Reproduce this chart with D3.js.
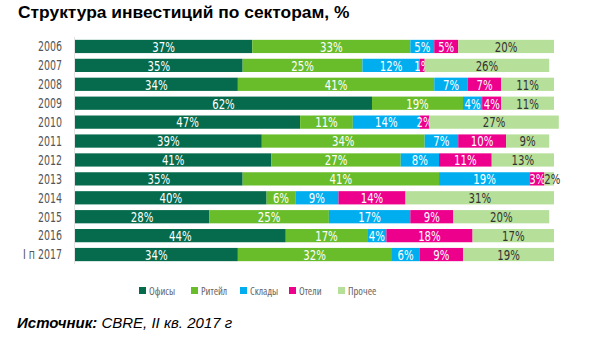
<!DOCTYPE html>
<html lang="ru">
<head>
    <meta charset="UTF-8">
    <title>Структура инвестиций по секторам</title>
    <script src="https://d3js.org/d3.v7.min.js"></script>
    <style>
        body { margin: 0; background: #fff; }
        svg { display: block; }
        .lbl { font-family: "DejaVu Sans Condensed", "DejaVu Sans", sans-serif; font-stretch: condensed; }
    </style>
</head>
<body>
    <div id="chart"></div>

    <script>
        const years = ["2006", "2007", "2008", "2009", "2010", "2011", "2012", "2013", "2014", "2015", "2016", "I п 2017"];
        const sectors = ["Офисы", "Ритейл", "Склады", "Отели", "Прочее"];
        const colors = ["#066b4d", "#6abd2a", "#00aeef", "#ec008c", "#b6df9a"];
        const textColors = ["#fff", "#fff", "#fff", "#fff", "#333"];

        // one array per sector, same order as years
        const offices = [37, 35, 34, 62, 47, 39, 41, 35, 40, 28, 44, 34];
        const retail  = [33, 25, 41, 19, 11, 34, 27, 41, 6, 25, 17, 32];
        const storage = [5, 12, 7, 4, 14, 7, 8, 19, 9, 17, 4, 6];
        const hotels  = [5, 1, 7, 4, 2, 10, 11, 3, 14, 9, 18, 9];
        const other   = [20, 26, 11, 11, 27, 9, 13, 2, 31, 20, 17, 19];

        const width = 600, height = 339;

        const rows = years.map((y, i) => {
            const vals = [offices[i], retail[i], storage[i], hotels[i], other[i]];
            let acc = 0;
            return {
                year: y,
                segs: vals.map((v, k) => { const s = { k, v, x0: acc, x1: acc + v }; acc += v; return s; })
            };
        });

        const x = d3.scaleLinear().domain([0, 100]).range([75, 554]);
        const y = d3.scaleBand().domain(years).range([37, 264]).paddingInner(0.3).paddingOuter(0.15);

        const svg = d3.select("#chart").append("svg")
            .attr("width", width)
            .attr("height", height);

        svg.append("text")
            .attr("x", 18).attr("y", 18)
            .attr("font-family", "Arial, 'Liberation Sans', sans-serif")
            .attr("font-weight", "bold")
            .attr("font-size", "17.4px")
            .attr("fill", "#000")
            .text("Структура инвестиций по секторам, %");

        // axis line on the left
        svg.append("line")
            .attr("x1", 74.5).attr("x2", 74.5)
            .attr("y1", 37).attr("y2", 264)
            .attr("stroke", "#e3e3e3");

        const row = svg.append("g").selectAll("g")
            .data(rows)
            .enter().append("g")
            .attr("transform", d => `translate(0,${y(d.year)})`);

        const cy = y.bandwidth() / 2;

        row.append("text")
            .attr("class", "lbl")
            .attr("transform", `translate(62,${cy}) scale(0.78,1)`)
            .attr("dy", "0.36em")
            .attr("text-anchor", "end")
            .attr("font-size", "13.5px")
            .attr("fill", "#555")
            .text(d => d.year);

        const seg = row.selectAll("g.seg")
            .data(d => d.segs)
            .enter().append("g").attr("class", "seg");

        seg.append("rect")
            .attr("x", d => x(d.x0))
            .attr("width", d => x(d.x1) - x(d.x0))
            .attr("height", y.bandwidth())
            .attr("fill", d => colors[d.k]);

        seg.append("text")
            .attr("class", "lbl")
            .attr("transform", d => {
                const cx = d.v < 3 && d.k === 4 ? x(d.x0) + 8 : (x(d.x0) + x(d.x1)) / 2;
                return `translate(${cx},${cy}) scale(0.78,1)`;
            })
            .attr("dy", "0.37em")
            .attr("text-anchor", "middle")
            .attr("font-size", "14.5px")
            .attr("fill", d => textColors[d.k])
            .text(d => d.v + "%");

        // legend
        const legend = svg.append("g").attr("transform", "translate(139,291)");
        const offs = [0, 52, 101, 150, 199];
        const li = legend.selectAll("g")
            .data(sectors)
            .enter().append("g")
            .attr("transform", (d, i) => `translate(${offs[i]},0)`);
        li.append("rect")
            .attr("x", 0).attr("y", -4)
            .attr("width", 7).attr("height", 7)
            .attr("fill", (d, i) => colors[i]);
        li.append("text")
            .attr("x", 10).attr("y", 0)
            .attr("dy", "0.35em")
            .attr("font-family", "'Open Sans', 'Noto Sans', sans-serif")
            .attr("font-stretch", "condensed")
            .attr("font-size", "10.5px")
            .attr("fill", "#666")
            .text(d => d);

        const src = svg.append("text")
            .attr("x", 17).attr("y", 328)
            .attr("font-family", "Arial, 'Liberation Sans', sans-serif")
            .attr("font-style", "italic")
            .attr("font-size", "15px")
            .attr("fill", "#000");
        src.append("tspan").attr("font-weight", "bold").text("Источник:");
        src.append("tspan").text(" CBRE, II кв. 2017 г");
    </script>
</body>
</html>
